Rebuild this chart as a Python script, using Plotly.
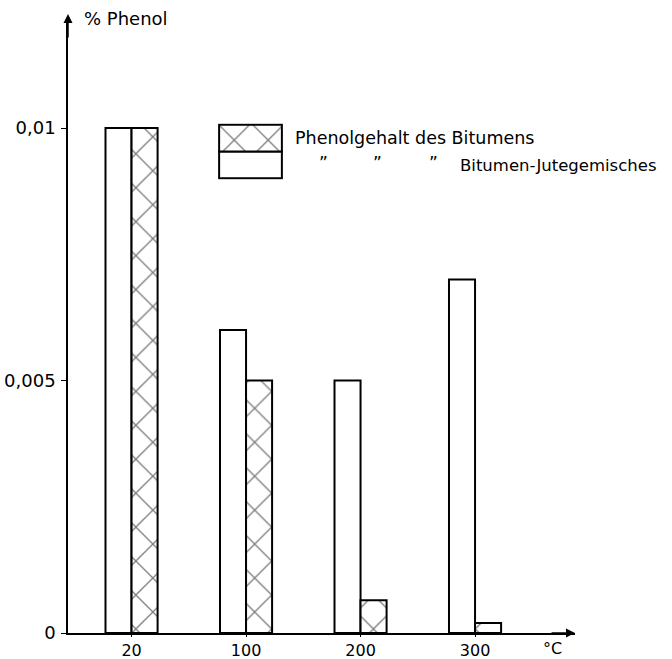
import plotly.graph_objects as go

temps = ["20", "100", "200", "300"]
gemisch = [0.010, 0.006, 0.005, 0.007]      # Bitumen-Jutegemisch (open bars)
bitumen = [0.010, 0.005, 0.00065, 0.0002]  # Bitumen (hatched bars)
ytick_vals = [0, 0.005, 0.01]
ytick_text = ["0", "0,005", "0,01"]

FONT = "DejaVu Sans"
L, R, T, B = 68, 575, 18, 633
W, H = R - L, B - T


def px(x):
    return (x - L) / W


def py(y):
    return (B - y) / H


hatch = dict(shape="x", size=24, solidity=0.11, fgcolor="black")
fig = go.Figure()
fig.add_bar(x=temps, y=gemisch, name="Bitumen-Jutegemisches",
            marker=dict(color="white", line=dict(color="black", width=2)),
            showlegend=False, hoverinfo="skip")
fig.add_bar(x=temps, y=bitumen, name="Phenolgehalt des Bitumens",
            marker=dict(color="white", line=dict(color="black", width=2),
                        pattern=hatch),
            showlegend=False, hoverinfo="skip")

# custom legend key (two stacked boxes)
fig.add_bar(x=[0], y=[1], base=[0], xaxis="x2", yaxis="y2", width=1,
            offsetgroup="leg",
            marker=dict(color="white", line=dict(color="black", width=2)),
            showlegend=False, hoverinfo="skip")
fig.add_bar(x=[0], y=[1], base=[1], xaxis="x2", yaxis="y2", width=1,
            offsetgroup="leg",
            marker=dict(color="white", line=dict(color="black", width=2),
                        pattern=hatch),
            showlegend=False, hoverinfo="skip")

fig.update_layout(
    width=672, height=659, autosize=False,
    margin=dict(l=L, r=672 - R, t=T, b=659 - B, pad=0, autoexpand=False),
    paper_bgcolor="white", plot_bgcolor="white",
    barmode="group", bargap=0.545, bargroupgap=0,
    font=dict(family=FONT, size=17, color="black"),
    xaxis=dict(type="category", range=[-0.555, 3.873], showline=True,
               linecolor="black", linewidth=1.5, ticks="outside", ticklen=2,
               tickcolor="black", tickwidth=1.2, showgrid=False,
               zeroline=False, tickfont=dict(size=16), automargin=False),
    yaxis=dict(range=[0, 0.01218], showline=True, linecolor="black",
               linewidth=1.5, ticks="outside", ticklen=5, tickcolor="black",
               tickwidth=1.2, tickvals=ytick_vals, ticktext=ytick_text,
               showgrid=False, zeroline=False, tickfont=dict(size=18),
               ticklabelstandoff=2, automargin=False),
    xaxis2=dict(domain=[px(218) - 0.0015, px(283) + 0.0015], range=[-0.53, 0.53],
                visible=False, anchor="y2", automargin=False),
    yaxis2=dict(domain=[py(178) - 0.003, py(125) + 0.003], range=[-0.06, 2.06],
                visible=False, anchor="x2", automargin=False),
)

anns = [
    dict(x=0, y=py(14), xref="paper", yref="paper", ax=0, ay=25,
         showarrow=True, arrowhead=2, arrowsize=1.2, arrowwidth=1.5,
         arrowcolor="black", text=""),
    dict(x=1, y=0, xref="paper", yref="paper", ax=-25, ay=0, showarrow=True,
         arrowhead=2, arrowsize=1.2, arrowwidth=1.5, arrowcolor="black",
         text=""),
    dict(x=px(82), y=py(19), xref="paper", yref="paper", text="% Phenol",
         showarrow=False, xanchor="left", yanchor="middle",
         font=dict(size=18)),
    dict(x=px(552), y=py(648), xref="paper", yref="paper", text="°C",
         showarrow=False, xanchor="center", yanchor="middle",
         font=dict(size=16)),
    dict(x=px(293), y=py(138), xref="paper", yref="paper",
         text="Phenolgehalt des Bitumens", showarrow=False,
         xanchor="left", yanchor="middle", font=dict(size=17.5)),
    dict(x=px(458), y=py(166), xref="paper", yref="paper",
         text="Bitumen-Jutegemisches", showarrow=False,
         xanchor="left", yanchor="middle", font=dict(size=16.5)),
]
for xd in (323, 377, 433):
    anns.append(dict(x=px(xd), y=py(163), xref="paper", yref="paper",
                     text="\u201d", showarrow=False, xanchor="center",
                     yanchor="middle", font=dict(size=17)))
fig.update_layout(annotations=anns)

fig.write_html("out.html", config={"displayModeBar": False},
               post_script="document.body.style.margin='0';")
